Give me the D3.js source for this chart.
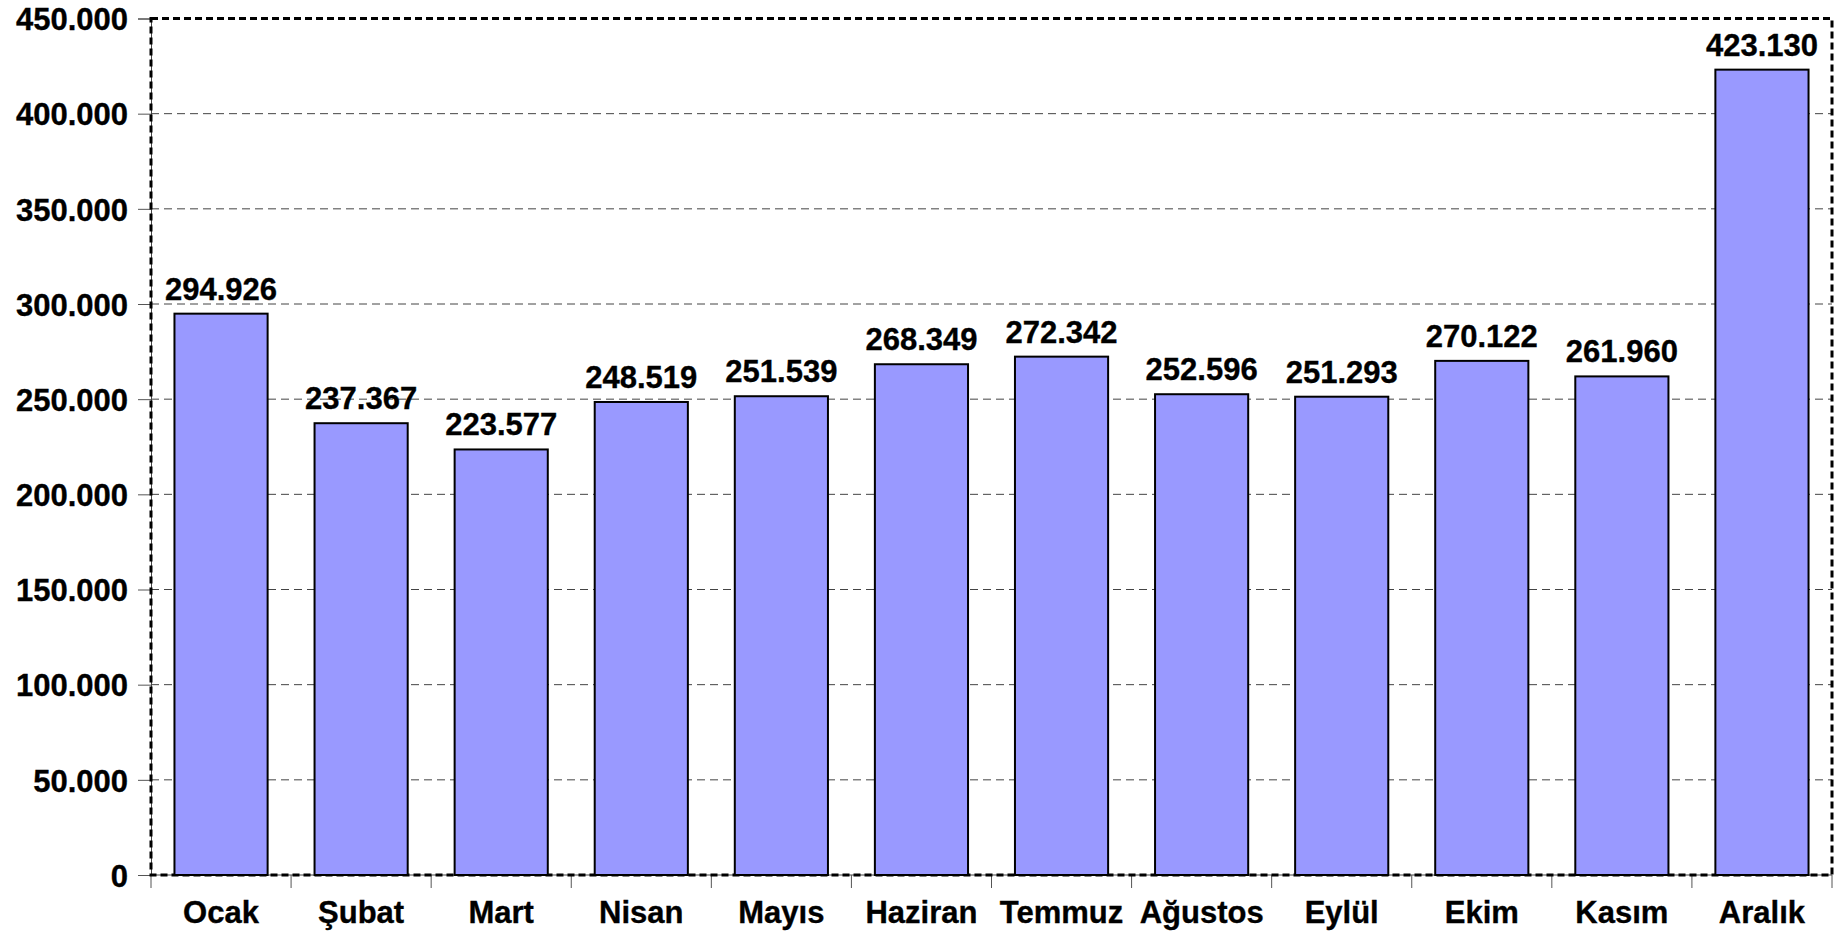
<!DOCTYPE html>
<html>
<head>
<meta charset="utf-8">
<script src="https://cdn.jsdelivr.net/npm/d3@7"></script>
<style>
  html, body { margin: 0; padding: 0; background: #fff; }
  svg { display: block; }
  text { font-family: "Liberation Sans", Arial, sans-serif; font-weight: bold; fill: #000; stroke: #000; stroke-width: 0.35px; }
</style>
</head>
<body>
<svg id="chart" width="1843" height="936"></svg>
<script>
// Monthly totals
const months = ["Ocak", "Şubat", "Mart", "Nisan", "Mayıs", "Haziran", "Temmuz", "Ağustos", "Eylül", "Ekim", "Kasım", "Aralık"];
const values = [294926, 237367, 223577, 248519, 251539, 268349, 272342, 252596, 251293, 270122, 261960, 423130];
const yTicks = [0, 50000, 100000, 150000, 200000, 250000, 300000, 350000, 400000, 450000];

const svg = d3.select("#chart");
const plotLeft = 151, plotRight = 1832, plotTop = 18.5, plotBottom = 875;

const fmt = v => d3.format(",.0f")(v).replace(/,/g, ".");

const x = d3.scaleBand().domain(months).range([plotLeft, plotRight]).paddingInner(0.335).paddingOuter(0.1675);
const y = d3.scaleLinear().domain([0, 450000]).range([plotBottom, plotTop]);

// horizontal grid lines
svg.append("g")
  .selectAll("line")
  .data(yTicks.filter(t => t > 0 && t < 450000))
  .join("line")
  .attr("x1", plotLeft).attr("x2", plotRight)
  .attr("y1", d => y(d)).attr("y2", d => y(d))
  .attr("stroke", "#444").attr("stroke-width", 1)
  .attr("stroke-dasharray", "8,5");

// y axis
const yAxis = svg.append("g")
  .attr("transform", `translate(${plotLeft},0)`)
  .call(d3.axisLeft(y).tickValues(yTicks).tickFormat(fmt).tickSize(13).tickPadding(10));
yAxis.selectAll("path").attr("stroke", "#444").attr("stroke-width", 1);
yAxis.selectAll(".tick line").attr("stroke", "#555").attr("stroke-width", 1);
yAxis.selectAll("text").style("font-size", "31px").attr("dy", "0.36em");

// x axis: baseline plus ticks on category boundaries
const step = x.step();
const bounds = d3.range(months.length + 1).map(i => plotLeft + i * step);
const xAxis = svg.append("g");
xAxis.append("line")
  .attr("x1", plotLeft).attr("x2", plotRight).attr("y1", plotBottom).attr("y2", plotBottom)
  .attr("stroke", "#444").attr("stroke-width", 1);
xAxis.selectAll(".xt")
  .data(bounds)
  .join("line")
  .attr("class", "xt")
  .attr("x1", d => d).attr("x2", d => d)
  .attr("y1", plotBottom).attr("y2", plotBottom + 13)
  .attr("stroke", "#555").attr("stroke-width", 1);
xAxis.selectAll("text")
  .data(months)
  .join("text")
  .attr("x", d => x(d) + x.bandwidth() / 2)
  .attr("y", 923)
  .attr("text-anchor", "middle")
  .style("font-size", "31px")
  .text(d => d);

// dashed plot frame
svg.append("rect")
  .attr("x", plotLeft).attr("y", plotTop)
  .attr("width", plotRight - plotLeft).attr("height", plotBottom - plotTop)
  .attr("fill", "none").attr("stroke", "#000").attr("stroke-width", 3)
  .attr("stroke-dasharray", "7,4");

// bars
svg.append("g")
  .selectAll("rect")
  .data(values)
  .join("rect")
  .attr("x", (d, i) => x(months[i]))
  .attr("y", d => y(d))
  .attr("width", x.bandwidth())
  .attr("height", d => plotBottom - y(d))
  .attr("fill", "#9999FF")
  .attr("stroke", "#000").attr("stroke-width", 2);

// value labels
svg.append("g")
  .selectAll("text")
  .data(values)
  .join("text")
  .attr("x", (d, i) => x(months[i]) + x.bandwidth() / 2)
  .attr("y", d => y(d) - 14)
  .attr("text-anchor", "middle")
  .style("font-size", "31px")
  .text(d => fmt(d));
</script>
</body>
</html>
